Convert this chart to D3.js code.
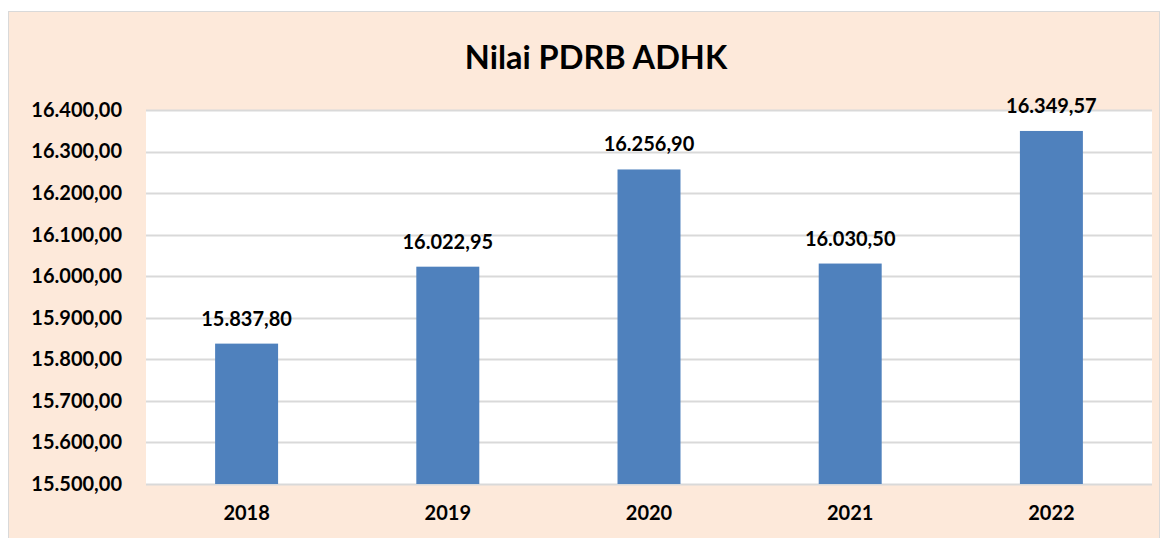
<!DOCTYPE html>
<html>
<head>
<meta charset="utf-8">
<script src="https://cdn.jsdelivr.net/npm/d3@7"></script>
<style>
  body { margin: 0; background: #fff; }
  text { font-family: Lato, "Open Sans", sans-serif; font-weight: bold; fill: #000; }
</style>
</head>
<body>
<div id="chart"></div>
<script>
// data
var years = ["2018", "2019", "2020", "2021", "2022"];
var values = [15837.80, 16022.95, 16256.90, 16030.50, 16349.57];
var yTicks = [15500, 15600, 15700, 15800, 15900, 16000, 16100, 16200, 16300, 16400];
var title = "Nilai PDRB ADHK";

var W = 1168, H = 538;
var margin = {top: 110, right: 16, bottom: 54, left: 146};
var width = W - margin.left - margin.right,
    height = H - margin.top - margin.bottom;

// number format like 16.400,00
var fmt = d3.formatLocale({decimal: ",", thousands: ".", grouping: [3], currency: ["", ""]}).format(",.2f");

var svg = d3.select("#chart").append("svg")
  .attr("width", W)
  .attr("height", H);

// chart frame
svg.append("rect")
  .attr("x", 8.5).attr("y", 11.5)
  .attr("width", W - 17).attr("height", H)
  .attr("fill", "#FDE9DA")
  .attr("stroke", "#D9D9D9");

svg.append("text")
  .attr("x", 596).attr("y", 69)
  .attr("text-anchor", "middle")
  .style("font-size", "32.5px")
  .text(title);

var g = svg.append("g")
  .attr("transform", "translate(" + margin.left + "," + margin.top + ")");

var x = d3.scaleBand().domain(years).range([0, width]).padding(0);
var y = d3.scaleLinear().domain([15500, 16400]).range([height, 0]);

// plot area
g.append("rect")
  .attr("width", width).attr("height", height)
  .attr("fill", "#fff");

// gridlines
g.selectAll(".grid")
  .data(yTicks)
  .enter().append("line")
  .attr("class", "grid")
  .attr("x1", 0).attr("x2", width)
  .attr("y1", function(d) { return Math.round(y(d)) + 0.5; })
  .attr("y2", function(d) { return Math.round(y(d)) + 0.5; })
  .attr("stroke", "#D9D9D9")
  .attr("stroke-width", 2);

// bars
var barW = x.bandwidth() * 0.313;
g.selectAll(".bar")
  .data(values)
  .enter().append("rect")
  .attr("class", "bar")
  .attr("x", function(d, i) { return x(years[i]) + (x.bandwidth() - barW) / 2; })
  .attr("width", barW)
  .attr("y", function(d) { return y(d); })
  .attr("height", function(d) { return height - y(d); })
  .attr("fill", "#4F81BD");

// value labels
g.selectAll(".lbl")
  .data(values)
  .enter().append("text")
  .attr("class", "lbl")
  .attr("x", function(d, i) { return x(years[i]) + x.bandwidth() / 2; })
  .attr("y", function(d) { return y(d) - 18; })
  .attr("text-anchor", "middle")
  .style("font-size", "20px")
  .text(function(d) { return fmt(d); });

// y axis
var yAxis = g.append("g")
  .call(d3.axisLeft(y).tickValues(yTicks).tickSize(0).tickPadding(24).tickFormat(fmt));
yAxis.select(".domain").remove();
yAxis.selectAll("text").style("font-size", "20px").attr("font-family", null);

// x axis
var xAxis = g.append("g")
  .attr("transform", "translate(0," + height + ")")
  .call(d3.axisBottom(x).tickSize(0).tickPadding(22));
xAxis.select(".domain").remove();
xAxis.selectAll("text").style("font-size", "20px").attr("font-family", null);
</script>
</body>
</html>
